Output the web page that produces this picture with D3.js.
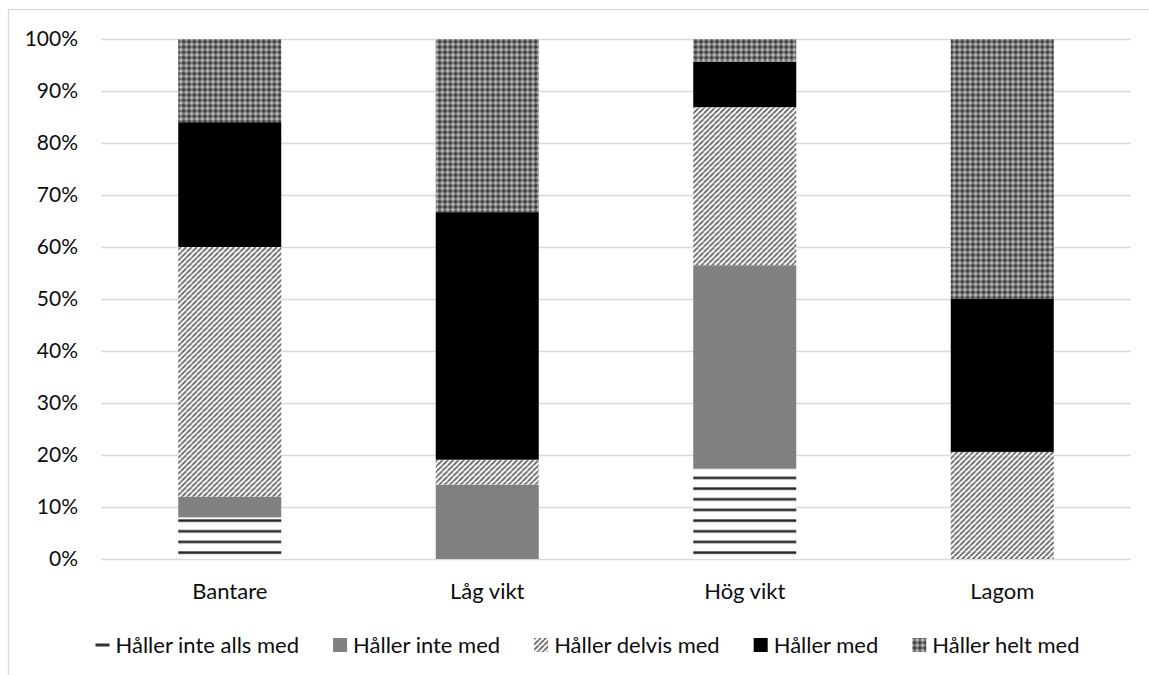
<!DOCTYPE html>
<html>
<head>
<meta charset="utf-8">
<script src="https://cdn.jsdelivr.net/npm/d3@7"></script>
<style>
  html, body { margin: 0; padding: 0; background: #fff; }
  svg { display: block; }
  text { font-family: Lato, "Noto Sans", sans-serif; fill: #0d0d0d; }
</style>
</head>
<body>
<svg id="chart" width="1149" height="675"></svg>
<script>
// Categories and response shares (percent of each group)
const categories = ["Bantare", "Låg vikt", "Hög vikt", "Lagom"];
const seriesNames = ["Håller inte alls med", "Håller inte med", "Håller delvis med", "Håller med", "Håller helt med"];
const inteAllsMed = [8.0, 0.0, 17.4, 0.0];
const inteMed     = [4.0, 14.3, 39.1, 0.0];
const delvisMed   = [48.0, 4.8, 30.4, 20.6];
const medVals     = [24.0, 47.6, 8.7, 29.4];
const heltMed     = [16.0, 33.3, 4.4, 50.0];
const yTicks = [0, 10, 20, 30, 40, 50, 60, 70, 80, 90, 100];

const seriesValues = [inteAllsMed, inteMed, delvisMed, medVals, heltMed];
const rows = categories.map((c, i) => {
  const r = { category: c };
  seriesNames.forEach((s, j) => r[s] = seriesValues[j][i]);
  return r;
});

const svg = d3.select("#chart");
const W = 1149, H = 675;
const margin = { left: 101, right: 18, top: 39, bottom: 116 };
const plotW = W - margin.left - margin.right;
const plotH = H - margin.top - margin.bottom;

// Fill patterns
const defs = svg.append("defs");

// horizontal dark lines
const hStep = 10.667;
const pH = defs.append("pattern").attr("id", "pat-horz")
  .attr("patternUnits", "userSpaceOnUse").attr("width", hStep).attr("height", hStep);
pH.append("rect").attr("width", hStep).attr("height", hStep).attr("fill", "#fff");
pH.append("rect").attr("y", 0).attr("width", hStep).attr("height", 3.2).attr("fill", "#a0a0a0");
pH.append("rect").attr("y", 0.6).attr("width", hStep).attr("height", 2).attr("fill", "#262626");

// upward diagonal gray lines
const dStep = 5.333;
const pD = defs.append("pattern").attr("id", "pat-diag")
  .attr("patternUnits", "userSpaceOnUse").attr("width", dStep).attr("height", dStep);
pD.append("rect").attr("width", dStep).attr("height", dStep).attr("fill", "#fff");
[-1, 0, 1].forEach(k => {
  pD.append("line")
    .attr("x1", k * dStep).attr("y1", dStep)
    .attr("x2", (k + 1) * dStep).attr("y2", 0)
    .attr("stroke", "#666").attr("stroke-width", 1.8);
});

// dark crosses on mid gray with light dots
const cStep = 5.333, c = cStep / 2;
const pC = defs.append("pattern").attr("id", "pat-cross")
  .attr("patternUnits", "userSpaceOnUse").attr("width", cStep).attr("height", cStep);
pC.append("rect").attr("width", cStep).attr("height", cStep).attr("fill", "#8e8e8e");
pC.append("rect").attr("x", c - 2).attr("y", c - 0.7).attr("width", 4).attr("height", 1.4).attr("fill", "#3a3a3a");
pC.append("rect").attr("x", c - 0.7).attr("y", c - 2).attr("width", 1.4).attr("height", 4).attr("fill", "#3a3a3a");
pC.append("rect").attr("x", -0.8).attr("y", -0.8).attr("width", 1.6).attr("height", 1.6).attr("fill", "#d4d4d4");
pC.append("rect").attr("x", cStep - 0.8).attr("y", -0.8).attr("width", 1.6).attr("height", 1.6).attr("fill", "#d4d4d4");
pC.append("rect").attr("x", -0.8).attr("y", cStep - 0.8).attr("width", 1.6).attr("height", 1.6).attr("fill", "#d4d4d4");
pC.append("rect").attr("x", cStep - 0.8).attr("y", cStep - 0.8).attr("width", 1.6).attr("height", 1.6).attr("fill", "#d4d4d4");

const fills = ["url(#pat-horz)", "#808080", "url(#pat-diag)", "#000000", "url(#pat-cross)"];

// Chart frame
svg.append("rect")
  .attr("x", 8.5).attr("y", 9.5).attr("width", W + 20).attr("height", H + 20)
  .attr("fill", "none").attr("stroke", "#d9d9d9").attr("stroke-width", 1.3);

const g = svg.append("g").attr("transform", `translate(${margin.left},${margin.top})`);

const x = d3.scaleBand().domain(categories).range([0, plotW])
  .paddingInner(0.6).paddingOuter(0.3);
const y = d3.scaleLinear().domain([0, 100]).range([plotH, 0]);

// gridlines
g.append("g").selectAll("line").data(yTicks).join("line")
  .attr("x1", 0).attr("x2", plotW)
  .attr("y1", d => Math.round(y(d)) + 0.5).attr("y2", d => Math.round(y(d)) + 0.5)
  .attr("stroke", "#d9d9d9").attr("stroke-width", 1.4);

// y axis labels
const yAxis = d3.axisLeft(y).tickValues(yTicks).tickFormat(d => d + "%").tickSize(0).tickPadding(23);
const ya = g.append("g").call(yAxis);
ya.select(".domain").remove();
ya.selectAll("text").attr("font-size", 21).attr("font-family", "Lato, 'Noto Sans', sans-serif").attr("fill", "#0d0d0d");

// stacked bars
const stack = d3.stack().keys(seriesNames).order(d3.stackOrderNone).offset(d3.stackOffsetNone);
const layers = stack(rows);
g.append("g").selectAll("g").data(layers).join("g")
  .attr("fill", (d, i) => fills[i])
  .selectAll("rect").data(d => d.map(v => ({ v, cat: v.data.category }))).join("rect")
  .attr("x", d => x(d.cat))
  .attr("width", x.bandwidth())
  .attr("y", d => y(d.v[1]))
  .attr("height", d => Math.max(0, y(d.v[0]) - y(d.v[1])));

// x axis labels
const xAxis = d3.axisBottom(x).tickSize(0).tickPadding(24);
const xa = g.append("g").attr("transform", `translate(0,${plotH})`).call(xAxis);
xa.select(".domain").remove();
xa.selectAll("text").attr("font-size", 22).attr("font-family", "Lato, 'Noto Sans', sans-serif").attr("fill", "#0d0d0d");

// legend
const legendY = 645;
const legend = svg.append("g");
const items = legend.selectAll("g").data(seriesNames).join("g");
items.append("text")
  .attr("font-size", 22)
  .attr("dy", "0.35em")
  .attr("y", legendY)
  .text(d => d);
const widths = [];
items.each(function () { widths.push(d3.select(this).select("text").node().getComputedTextLength()); });
const markerW = 14, markerGap = 6, itemGap = 34;
const total = d3.sum(widths) + seriesNames.length * (markerW + markerGap) + (seriesNames.length - 1) * itemGap;
let cursor = 587.5 - total / 2;
items.each(function (d, i) {
  const it = d3.select(this);
  if (i === 0) {
    it.append("rect").attr("x", cursor).attr("y", legendY - 1.5).attr("width", markerW).attr("height", 3).attr("fill", "#333");
  } else {
    it.append("rect").attr("x", cursor).attr("y", legendY - 7).attr("width", markerW).attr("height", markerW).attr("fill", fills[i]);
  }
  it.select("text").attr("x", cursor + markerW + markerGap);
  cursor += markerW + markerGap + widths[i] + itemGap;
});
</script>
</body>
</html>
